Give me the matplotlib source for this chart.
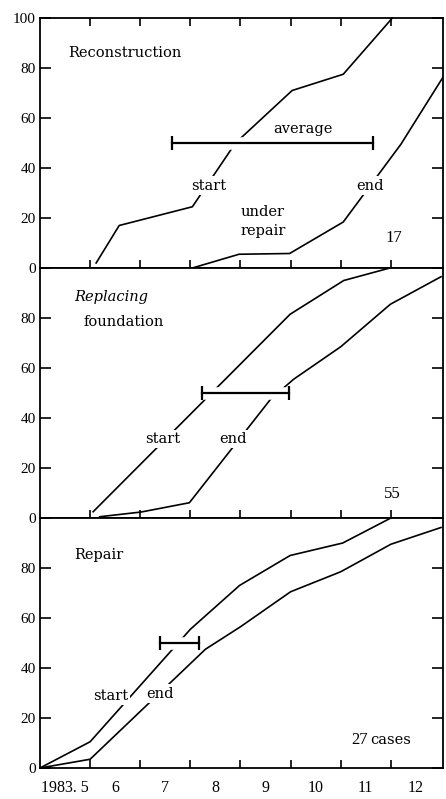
import matplotlib.pyplot as plt

# cumulative share of cases (%) against month of 1983
recon_start_x = [6.12, 6.58, 8.04, 8.9, 10.03, 11.05, 12.03]
recon_start_y = [2, 17, 24.5, 50, 71, 77.5, 100]
recon_end_x = [8.04, 8.97, 9.98, 11.05, 12.2, 13.03]
recon_end_y = [0, 5.5, 5.8, 18.4, 49.5, 76]
recon_avg = [7.63, 11.65]

found_start_x = [6.06, 9.99, 11.06, 11.98]
found_start_y = [2.5, 81.5, 95, 100]
found_end_x = [6.19, 7.02, 7.98, 9.6, 10.06, 11.0, 11.99, 13.0]
found_end_y = [0.5, 2.4, 6.1, 47.5, 55.5, 68.5, 85.5, 96.5]
found_avg = [8.23, 9.97]

repair_start_x = [5.0, 6.0, 8.0, 8.98, 9.99, 11.04, 12.0]
repair_start_y = [0, 10.5, 55.5, 73, 85, 90, 100]
repair_end_x = [5.0, 6.0, 8.3, 9.0, 10.0, 11.0, 12.0, 13.0]
repair_end_y = [0, 3.5, 47.5, 56.5, 70.5, 78.5, 89.5, 96.2]
repair_avg = [7.39, 8.17]

month_ticks = [6, 7, 8, 9, 10, 11, 12]
month_centers = [5.5, 6.5, 7.5, 8.5, 9.5, 10.5, 11.5, 12.5]
month_labels = ["1983. 5", "6", "7", "8", "9", "10", "11", "12"]
y_ticks = [0, 20, 40, 60, 80, 100]

SERIF = "DejaVu Serif"
DIGITS = "Liberation Serif"
white_box = dict(facecolor="white", edgecolor="none", pad=1.5)

fig = plt.figure(figsize=(4.46, 7.99), dpi=100)
gs = fig.add_gridspec(3, 1, left=40 / 446, right=443 / 446,
                      top=1 - 18 / 799, bottom=1 - 768 / 799, hspace=0)
axes = [fig.add_subplot(gs[i]) for i in range(3)]

panels = [
    (recon_start_x, recon_start_y, recon_end_x, recon_end_y, recon_avg),
    (found_start_x, found_start_y, found_end_x, found_end_y, found_avg),
    (repair_start_x, repair_start_y, repair_end_x, repair_end_y, repair_avg),
]

for i, (ax, (sx, sy, ex, ey, avg)) in enumerate(zip(axes, panels)):
    ax.plot(sx, sy, color="black", lw=1.2, zorder=2, clip_on=False)
    ax.plot(ex, ey, color="black", lw=1.2, zorder=2, clip_on=False)
    # white band under the average bar breaks the curves where they cross it
    ax.plot(avg, [50, 50], color="white", lw=9, solid_capstyle="butt", zorder=3)
    ax.plot(avg, [50, 50], color="black", lw=1.6, marker="|", ms=10, mew=1.6,
            zorder=4)

    ax.set_xlim(5, 13.04)
    ax.set_ylim(0, 100)
    for s in ax.spines.values():
        s.set_linewidth(1.3)

    ax.set_yticks(y_ticks)
    labels = [str(v) for v in y_ticks]
    if i > 0:
        labels[-1] = ""
    ax.set_yticklabels(labels, fontfamily=DIGITS, fontsize=11)
    ax.tick_params(axis="y", direction="in", length=8, width=1.2,
                   left=True, right=True, pad=3)

    ax.set_xticks(month_ticks)
    ax.set_xticklabels([])
    ax.tick_params(axis="x", which="major", direction="in", length=6, width=1.2,
                   bottom=True, top=(i == 0))

axes[2].set_xticks(month_centers, minor=True)
axes[2].set_xticklabels(month_labels, minor=True, fontfamily=DIGITS, fontsize=11.5)
axes[2].tick_params(axis="x", which="minor", length=0, pad=9)

# Reconstruction panel
ax = axes[0]
ax.text(5.56, 86, "Reconstruction", family=SERIF, fontsize=10.5, va="center")
ax.text(10.25, 55.8, "average", family=SERIF, fontsize=10.5, ha="center",
        va="center", bbox=white_box, zorder=3)
ax.text(8.37, 33, "start", family=SERIF, fontsize=10.5, ha="center",
        va="center", bbox=white_box, zorder=3)
ax.text(9.45, 18.5, "under\nrepair", family=SERIF, fontsize=10.5, ha="center",
        va="center", linespacing=1.45, zorder=3)
ax.text(11.59, 33, "end", family=SERIF, fontsize=10.5, ha="center",
        va="center", bbox=white_box, zorder=3)
ax.text(12.05, 12, "17", family=DIGITS, fontsize=12, ha="center", va="center")

# Replacing foundation panel
ax = axes[1]
ax.text(5.68, 88.4, "Replacing", family=SERIF, style="italic", fontsize=10.5,
        va="center")
ax.text(5.86, 78.4, "foundation", family=SERIF, fontsize=10.5, va="center")
ax.text(7.45, 31.7, "start", family=SERIF, fontsize=10.5, ha="center",
        va="center", bbox=white_box, zorder=3)
ax.text(8.86, 31.7, "end", family=SERIF, fontsize=10.5, ha="center",
        va="center", bbox=white_box, zorder=3)
ax.text(12.02, 9.5, "55", family=DIGITS, fontsize=12, ha="center", va="center")

# Repair panel
ax = axes[2]
ax.text(5.68, 85, "Repair", family=SERIF, fontsize=10.5, va="center")
ax.text(6.41, 28.8, "start", family=SERIF, fontsize=10.5, ha="center",
        va="center", bbox=white_box, zorder=3)
ax.text(7.4, 29.8, "end", family=SERIF, fontsize=10.5, ha="center",
        va="center", bbox=white_box, zorder=3)
ax.text(11.55, 11.2, "27", family=DIGITS, fontsize=12, ha="right", va="center")
ax.text(11.59, 11.2, "cases", family=SERIF, fontsize=10.5, ha="left", va="center")

fig.savefig("out.png", dpi=100)
